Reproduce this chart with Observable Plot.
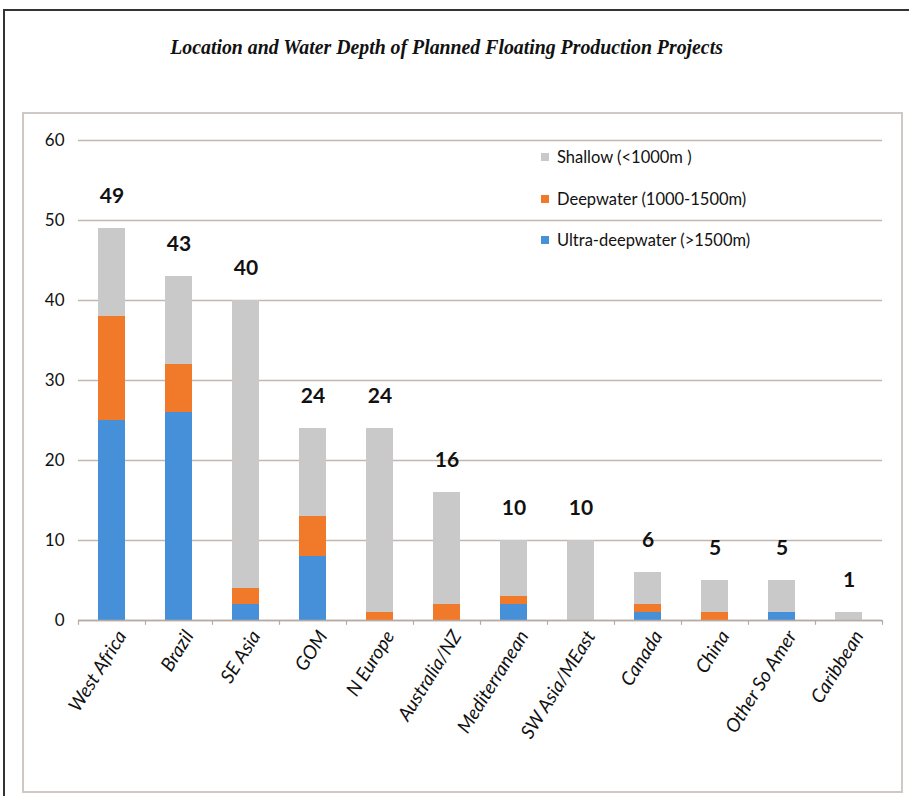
<!DOCTYPE html>
<html><head><meta charset="utf-8">
<script src="https://cdn.jsdelivr.net/npm/d3@7"></script>
<script src="https://cdn.jsdelivr.net/npm/@observablehq/plot@0.6"></script>
<style>
body{margin:0;background:#fff;}
#page{position:relative;width:909px;height:796px;overflow:hidden;background:#fff;}
#frame{position:absolute;left:3px;top:9px;width:930px;height:820px;border:2px solid #333;box-sizing:border-box;}
#inner{position:absolute;left:22px;top:112px;width:881px;height:681px;border:2px solid #cfc8c4;box-sizing:border-box;}
#title{position:absolute;top:34px;left:0;width:893px;text-align:center;font:italic bold 22px "Liberation Serif";color:#111;transform:scaleX(0.9);transform-origin:447px 0;}
#chart{position:absolute;left:0;top:110px;}
#legend{position:absolute;left:541px;top:146px;font:16.5px Lato;color:#111;}
#legend div{height:41.5px;display:flex;align-items:flex-start;line-height:22px;}
#legend span.sw{display:inline-block;width:8px;height:8px;margin:7px 8px 0 0;}
</style>
</head><body>
<div id="page">
  <div id="frame"></div>
  <div id="inner"></div>
  <div id="title">Location and Water Depth of Planned Floating Production Projects</div>
  <div id="chart"></div>
  <div id="legend"></div>
</div>
<script>
const regions = ["West Africa","Brazil","SE Asia","GOM","N Europe","Australia/NZ","Mediterranean","SW Asia/MEast","Canada","China","Other So Amer","Caribbean"];
const ultraDeep = [25,26,2,8,0,0,2,0,1,0,1,0];
const deepwater = [13,6,2,5,1,2,1,0,1,1,0,0];
const shallow   = [11,11,36,11,23,14,7,10,4,4,4,1];
const seriesNames = ["Ultra-deepwater (>1500m)","Deepwater (1000-1500m)","Shallow (<1000m )"];
const seriesColors = ["#4590d8","#f07a2a","#c9c9c9"];
const yTicks = [0,10,20,30,40,50,60];

const seriesValues = [ultraDeep, deepwater, shallow];
const rows = [];
regions.forEach((r,i)=>seriesValues.forEach((vals,s)=>rows.push({region:r, series:seriesNames[s], value:vals[i]})));
const totals = regions.map((r,i)=>({region:r, total: ultraDeep[i]+deepwater[i]+shallow[i]}));

const plotWidth = 909, mL = 78, mR = 27;
const halfStep = (plotWidth - mL - mR) / regions.length / 2;

const chart = Plot.plot({
  width: plotWidth, height: 680,
  marginTop: 30, marginBottom: 170, marginLeft: mL, marginRight: mR,
  style: {fontFamily: "Lato", fontSize: "16px", color: "#111", background: "transparent"},
  x: {domain: regions, paddingInner: 0.6, paddingOuter: 0.3, label: null},
  y: {domain: [0,60], label: null},
  color: {domain: seriesNames, range: seriesColors},
  marks: [
    Plot.gridY(yTicks, {stroke: "#c4b6ae", strokeOpacity: 1, strokeWidth: 1.3}),
    Plot.axisY(yTicks, {tickSize: 0, tickPadding: 14, fontSize: 17, label: null}),
    Plot.barY(rows, {x: "region", y: "value", fill: "series", order: seriesNames}),
    Plot.ruleY([0], {stroke: "#b8aaa2", strokeWidth: 1.3}),
    Plot.ruleX(regions, {x: d=>d, dx: -halfStep, y1: 0, y2: -0.6, stroke: "#b8aaa2", strokeWidth: 1.2}),
    Plot.ruleX(regions.slice(-1), {x: d=>d, dx: halfStep, y1: 0, y2: -0.6, stroke: "#b8aaa2", strokeWidth: 1.2}),
    Plot.axisX({tickSize: 0, tickPadding: 12, tickRotate: -58, fontStyle: "italic", fontSize: 19, dx: 10, label: null}),
    Plot.text(totals, {x: "region", y: "total", text: d=>String(d.total), dy: -32, fontWeight: "bold", fontSize: 21, fill: "#111"})
  ]
});
document.getElementById("chart").appendChild(chart);

const legendOrder = [2,1,0];
const lg = document.getElementById("legend");
legendOrder.forEach(s=>{
  const row = document.createElement("div");
  row.innerHTML = `<span class="sw" style="background:${seriesColors[s]}"></span><span>${seriesNames[s]}</span>`;
  lg.appendChild(row);
});
</script>
</body></html>
